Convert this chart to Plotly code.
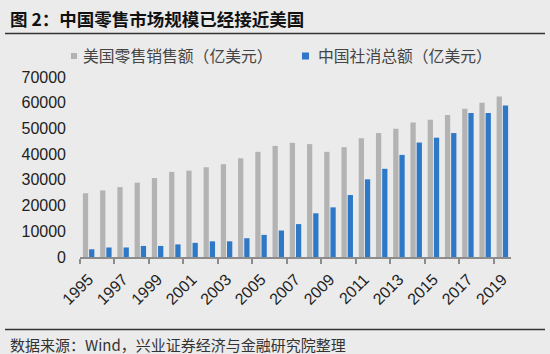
import plotly.graph_objects as go

years = [str(y) for y in range(1995, 2020)]
us_retail = [24800, 25900, 27200, 28900, 30700, 33100, 33600, 34900, 36100, 38400,
             40900, 43200, 44400, 43900, 40900, 42700, 46200, 48200, 49900, 52300,
             53400, 55200, 57700, 60000, 62400]
cn_retail = [3000, 3700, 3700, 4300, 4300, 4900, 5500, 6100, 6100, 7300,
             8600, 10300, 12800, 17000, 19300, 24100, 30200, 34300, 39700, 44500,
             46400, 48200, 56000, 56000, 58900]
us_name = "美国零售销售额（亿美元）"
cn_name = "中国社消总额（亿美元）"
title_text = "图 2：中国零售市场规模已经接近美国"
source_text = "数据来源：Wind，兴业证券经济与金融研究院整理"

GRAY = "#b3b3b3"
BLUE = "#2e78c8"
BG = "#ebebeb"
CJK = "Noto Sans CJK SC"

fig = go.Figure()
fig.add_trace(go.Bar(x=years, y=us_retail, name=us_name, marker_color=GRAY,
                     marker_line_width=0, showlegend=False))
fig.add_trace(go.Bar(x=years, y=cn_retail, name=cn_name, marker_color=BLUE,
                     marker_line_width=0, showlegend=False))

fig.update_layout(
    width=550, height=354,
    margin=dict(l=80, r=39, t=77, b=97, autoexpand=False),
    paper_bgcolor=BG, plot_bgcolor=BG,
    barmode="group", bargap=0.28, bargroupgap=0.15,
    font=dict(family="Liberation Sans, Arial", size=16, color="#222222"),
)
fig.update_xaxes(type="category", showline=True, linecolor="#8c8c8c", linewidth=1.5,
                 ticks="outside", ticklen=5, tickcolor="#8c8c8c", tickwidth=1.5,
                 tickson="boundaries", tickmode="linear", dtick=2, tick0=0,
                 tickangle=-45, ticklabelstandoff=5, showgrid=False, zeroline=False,
                 tickfont=dict(size=16, color="#222222"))
fig.update_yaxes(range=[0, 70000], dtick=10000, tickformat="d", showgrid=False,
                 zeroline=False, showline=False, ticks="", ticklabelstandoff=13,
                 tickfont=dict(size=16, color="#222222"))

def px_x(x):
    return (x - 80) / 431
def px_y(y):
    return (257 - y) / 180

shapes = [
    dict(type="line", xref="paper", yref="paper", x0=px_x(5), x1=px_x(545),
         y0=px_y(33.5), y1=px_y(33.5), line=dict(color="#333333", width=1.5)),
    dict(type="line", xref="paper", yref="paper", x0=px_x(5), x1=px_x(545),
         y0=px_y(329.5), y1=px_y(329.5), line=dict(color="#333333", width=1.5)),
    dict(type="rect", xref="paper", yref="paper", x0=px_x(71), x1=px_x(77),
         y0=px_y(59), y1=px_y(53), fillcolor=GRAY, line_width=0),
    dict(type="rect", xref="paper", yref="paper", x0=px_x(302), x1=px_x(309),
         y0=px_y(59.5), y1=px_y(52.5), fillcolor=BLUE, line_width=0),
]

annotations = [
    dict(text=title_text, xref="paper", yref="paper", x=px_x(8), y=px_y(18),
         xanchor="left", yanchor="middle", showarrow=False,
         font=dict(family=CJK, size=17.5, color="#111111", weight="bold")),
    dict(text=us_name, xref="paper", yref="paper", x=px_x(81), y=px_y(56),
         xanchor="left", yanchor="middle", showarrow=False,
         font=dict(family=CJK, size=15.8, color="#444444")),
    dict(text=cn_name, xref="paper", yref="paper", x=px_x(316), y=px_y(56),
         xanchor="left", yanchor="middle", showarrow=False,
         font=dict(family=CJK, size=15.8, color="#444444")),
    dict(text=source_text, xref="paper", yref="paper", x=px_x(8), y=px_y(344),
         xanchor="left", yanchor="middle", showarrow=False,
         font=dict(family=CJK, size=15, color="#333333")),
]
fig.update_layout(shapes=shapes, annotations=annotations)

fig.write_html("out.html")
